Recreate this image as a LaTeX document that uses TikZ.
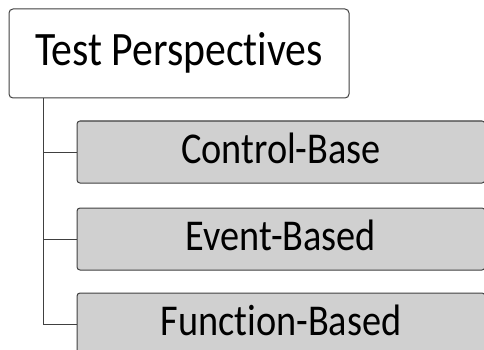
\documentclass[tikz,border=0pt]{standalone}
\usepackage{fontspec}
\setmainfont[Ligatures=NoCommon, FakeStretch=0.87]{Carlito}
\usetikzlibrary{positioning}
\definecolor{boxline}{HTML}{404040}
\definecolor{boxfill}{HTML}{D0D0D0}
\tikzset{node distance=23pt, % gap between the stacked boxes
every node/.style={ % text of every box
inner sep=0pt},
rootbox/.style={ % the top box
draw=boxline, line width=1pt, fill=white, rounded corners=4pt,
minimum width=340pt, minimum height=89pt,
text height=33.6pt, text depth=9.6pt,
font=\fontsize{48}{52}\selectfont},
leafbox/.style={ % the grey boxes
draw=boxline, line width=1pt, fill=boxfill, rounded corners=3pt,
minimum width=408pt, minimum height=62pt,
text height=30.8pt, text depth=8.8pt,
font=\fontsize{44}{48}\selectfont},
branch/.style={ % lines of the tree
draw=boxline, line width=1pt}}
\begin{document}
\begin{tikzpicture}[x=1pt, y=-1pt]

    \useasboundingbox (0,0) rectangle (484,350);
    \clip (0,0) rectangle (484,350);

    \node[rootbox] (root) at (179,53.5) {Test Perspectives};
    \node[leafbox] (cb) at (281,152) {Control-Base};
    \node[leafbox, below=24pt of cb] (eb) {Event-Based};
    \node[leafbox, below=22pt of eb] (fb) {Function-Based};

    \coordinate (trunk) at (43,98);
    \draw[branch] (trunk) |- (fb.west);
    \draw[branch] (trunk |- cb.west) -- (cb.west);
    \draw[branch] (trunk |- eb.west) -- (eb.west);

\end{tikzpicture}
\end{document}
